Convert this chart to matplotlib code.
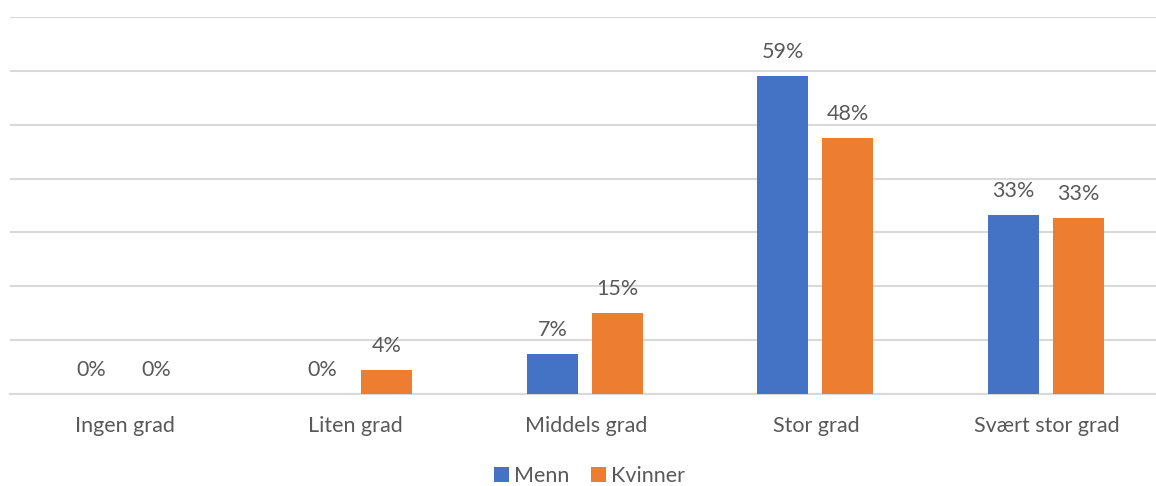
import numpy as np
import matplotlib.pyplot as plt

categories = ["Ingen grad", "Liten grad", "Middels grad", "Stor grad", "Svært stor grad"]
menn = [0.0, 0.0, 7.4, 59.1, 33.3]
kvinner = [0.0, 4.4, 15.1, 47.6, 32.6]
series_names = ["Menn", "Kvinner"]
colors = ["#4472C4", "#ED7D31"]

plt.rcParams['font.family'] = ['Lato', 'DejaVu Sans']
text_color = "#595959"
grid_color = "#D9D9D9"

W, H = 1156, 486
figure = plt.figure(figsize=(W / 100, H / 100), dpi=100)
axes = figure.add_axes([10 / W, 1 - 394 / H, 1 - 10 / W, (394 - 17) / H])

x = np.arange(len(categories))
width = 0.221
offset = 0.141

for values, name, color, sign in zip([menn, kvinner], series_names, colors, [-1, 1]):
    bars = axes.bar(x + sign * offset - 0.006, values, width, color=color, label=name, zorder=3)
    for bar, v in zip(bars, values):
        axes.annotate(f"{v:.0f}%", (bar.get_x() + bar.get_width() / 2, bar.get_height()),
                      xytext=(0, 14), textcoords="offset pixels", ha="center", va="bottom",
                      fontsize=15.5, color=text_color)

axes.set_xlim(-0.5, -0.5 + (W - 10) / 230.5)
axes.set_ylim(0, 70)
axes.set_yticks(np.arange(0, 71, 10))
axes.yaxis.grid(True, color=grid_color, linewidth=1.5, zorder=0)
axes.set_yticklabels([])
axes.tick_params(axis="y", length=0)
axes.tick_params(axis="x", length=0, pad=16, labelsize=15.5, labelcolor=text_color)
axes.set_xticks(x)
axes.set_xticklabels(categories)
for side in ["top", "right", "left"]:
    axes.spines[side].set_visible(False)
axes.spines["bottom"].set_color(grid_color)
axes.spines["bottom"].set_linewidth(1.5)

figure.legend(loc="lower center", bbox_to_anchor=(0.51, -0.022), ncol=2, frameon=False,
              fontsize=15.5, labelcolor=text_color, handlelength=0.7, handleheight=0.7,
              handletextpad=0.25, columnspacing=1.0, borderpad=0)

figure.savefig("out.png", dpi=100)
